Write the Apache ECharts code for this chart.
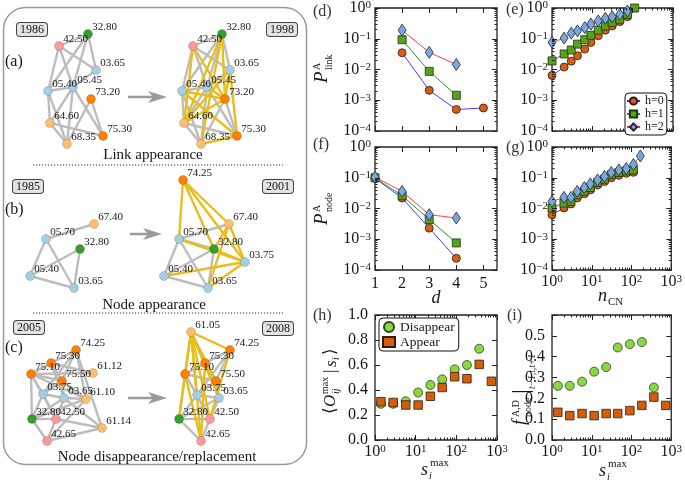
<!DOCTYPE html>
<html><head><meta charset="utf-8">
<script src="https://cdn.jsdelivr.net/npm/echarts@6/dist/echarts.min.js"></script>
<style>html,body{margin:0;padding:0;background:#fff}#c{width:685px;height:481px}</style>
</head><body><div id="c"></div>
<script>
// ================= DATA =================
// (d),(f): graph distance d
const dValues = [1, 2, 3, 4, 5];
const linkD_h0 = [null, 0.035, 0.0021, 0.00050, 0.00056];
const linkD_h1 = [null, 0.093, 0.0087, 0.00145, null];
const linkD_h2 = [null, 0.19, 0.036, 0.0145, null];
const nodeD_h0 = [0.095, 0.022, 0.0023, 0.00024, null];
const nodeD_h1 = [0.100, 0.026, 0.0044, 0.00076, null];
const nodeD_h2 = [0.105, 0.036, 0.0063, 0.0049, null];
// (e),(g): number of common neighbours
const nCN = [1, 2, 3, 4.3, 6.5, 9.2, 14, 21, 31, 48, 74, 112, 167];
const linkCN_h0 = [0.0064, 0.012, 0.0186, 0.028, 0.046, 0.076, 0.125, 0.19, 0.26, 0.36, 0.52];
const linkCN_h1 = [0.019, 0.032, 0.043, 0.067, 0.093, 0.13, 0.19, 0.26, 0.34, 0.43, 0.62, 1.0];
const linkCN_h2 = [0.076, 0.105, 0.152, 0.18, 0.23, 0.30, 0.38, 0.46, 0.52, 0.62, 0.80];
const nodeCN_h0 = [0.0063, 0.0104, 0.014, 0.022, 0.030, 0.040, 0.058, 0.075, 0.10, 0.12, 0.14, 0.15];
const nodeCN_h1 = [0.0104, 0.015, 0.017, 0.028, 0.036, 0.048, 0.070, 0.090, 0.125, 0.148, 0.167, 0.18];
const nodeCN_h2 = [0.017, 0.023, 0.023, 0.036, 0.048, 0.063, 0.085, 0.11, 0.148, 0.18, 0.20, 0.27, 0.51];
// (h),(i): s_i^max
const sMax = [1.4, 2.8, 5.7, 11.5, 23, 45, 91, 182, 365, 730];
const overlapDisappear = [0.29, 0.29, 0.31, 0.38, 0.44, 0.485, 0.565, 0.60, 0.73, null];
const overlapAppear = [0.306, 0.30, 0.28, 0.28, 0.35, 0.42, 0.506, 0.49, 0.605, 0.47];
const fracDisappear = [0.26, 0.26, 0.28, 0.328, 0.35, 0.444, 0.46, 0.47, 0.252, null];
const fracAppear = [0.133, 0.117, 0.127, 0.117, 0.127, 0.127, 0.141, 0.166, 0.206, 0.166];
// tick labels
const logTicksY = [1e-4, 1e-3, 1e-2, 1e-1, 1];
const logTicksX = [1, 10, 100, 1000];
const dTicks = [1, 2, 3, 4, 5];
const overlapTicks = [0, 0.2, 0.4, 0.6, 0.8, 1.0];
const fracTicks = [0, 0.1, 0.2, 0.3, 0.4, 0.5, 0.6];
const fracLabels = [0, 0.1, 0.2, 0.3, 0.4, 0.5];
const seriesNamesH = ['h=0', 'h=1', 'h=2'];
const seriesNamesAD = ['Disappear', 'Appear'];

// networks: [label, x, y, category]
const nodes1986 = [['42.50',19,21,'pink'],['32.80',48,9,'green'],['03.65',56,45,'blue'],['05.40',8,66,'blue'],['05.45',33,62,'blue'],['73.20',51,74,'orange'],['64.60',10,98,'lorange'],['68.35',27,119,'lorange'],['75.30',63,111,'orange']];
const edges1986 = [['42.50','32.80'],['42.50','05.40'],['42.50','05.45'],['42.50','03.65'],['32.80','05.40'],['32.80','05.45'],['32.80','03.65'],['05.40','05.45'],['05.45','03.65'],['05.40','64.60'],['05.40','68.35'],['05.45','64.60'],['05.45','68.35'],['05.45','75.30'],['64.60','68.35'],['64.60','75.30'],['73.20','68.35'],['73.20','75.30']];
const nodes1998 = nodes1986;
const newEdges1998 = [['42.50','73.20'],['32.80','73.20'],['32.80','64.60'],['05.40','73.20'],['05.45','73.20'],['03.65','64.60'],['03.65','73.20'],['03.65','75.30'],['64.60','73.20'],['42.50','64.60'],['05.40','75.30'],['68.35','75.30'],['32.80','68.35']];
const nodes1985 = [['05.70',26,69,'blue'],['67.40',74,54,'lorange'],['32.80',60,79,'green'],['05.40',10,106,'blue'],['03.65',54,118,'blue']];
const edges1985 = [['05.70','67.40'],['05.70','05.40'],['05.70','03.65'],['05.40','32.80'],['05.40','03.65'],['32.80','03.65']];
const nodes2001 = [['74.25',29,10,'orange'],['05.70',25,69,'blue'],['67.40',75,54,'lorange'],['32.80',60,79,'green'],['05.40',10,106,'blue'],['03.65',54,118,'blue'],['03.75',91,92,'blue']];
const edges2001 = [['05.70','67.40'],['05.70','05.40'],['05.70','03.65'],['05.40','32.80'],['05.40','03.65'],['32.80','03.65'],['05.70','32.80']];
const newEdges2001 = [['74.25','05.70'],['74.25','32.80'],['74.25','67.40'],['74.25','03.75'],['67.40','03.75'],['67.40','03.65'],['32.80','03.75'],['05.40','03.75'],['03.65','03.75'],['05.70','03.75'],['67.40','32.80']];
const nodes2005 = [['74.25',61,25,'orange'],['75.30',36,38,'orange'],['75.10',16,49,'orange'],['75.50',47,56,'orange'],['61.12',78,48,'lorange'],['03.75',28,69,'blue'],['03.65',49,73,'blue'],['61.10',71,74,'lorange'],['32.80',17,94,'green'],['42.50',41,94,'pink'],['61.14',87,103,'lorange'],['42.65',32,116,'pink']];
const edges2005 = [['74.25','75.10'],['74.25','75.30'],['74.25','75.50'],['74.25','03.75'],['74.25','61.14'],['74.25','61.10'],['75.30','75.10'],['75.30','75.50'],['75.30','61.12'],['75.30','03.65'],['75.10','61.12'],['75.10','75.50'],['75.10','03.75'],['75.10','32.80'],['75.10','61.10'],['75.50','03.75'],['75.50','03.65'],['75.50','61.10'],['03.75','03.65'],['03.75','32.80'],['03.75','42.50'],['03.65','61.10'],['03.65','42.50'],['03.65','61.14'],['32.80','42.50'],['32.80','42.65'],['42.50','42.65'],['42.65','61.14'],['42.50','61.14'],['32.80','61.10'],['75.10','42.50'],['03.65','32.80'],['61.10','42.65']];
const nodes2008 = [['61.05',26,7,'lorange'],['74.25',65,25,'orange'],['75.30',40,38,'orange'],['75.10',20,49,'orange'],['75.50',51,56,'orange'],['03.75',32,70,'blue'],['03.65',54,73,'blue'],['32.80',14,94,'green'],['42.50',45,94,'pink'],['42.65',36,116,'pink']];
const edges2008 = [['74.25','75.10'],['74.25','75.30'],['74.25','75.50'],['74.25','03.75'],['75.30','75.10'],['75.30','75.50'],['75.30','03.65'],['75.10','75.50'],['75.10','03.75'],['75.10','32.80'],['75.50','03.75'],['75.50','03.65'],['03.75','03.65'],['03.75','32.80'],['03.75','42.50'],['03.65','42.50'],['32.80','42.50'],['32.80','42.65'],['42.50','42.65'],['75.10','42.50'],['03.65','32.80']];
const newEdges2008 = [['61.05','75.10'],['61.05','32.80'],['61.05','74.25'],['61.05','75.30'],['61.05','75.50'],['61.05','03.75'],['61.05','42.65'],['61.05','42.50'],['61.05','03.65'],['74.25','42.50'],['75.10','42.65'],['75.30','42.65']];

// ================= STYLE / HELPERS =================
const SERIF = '"Liberation Serif", "DejaVu Serif", serif';
const INK = '#161616';
const NODE_COLORS = {pink:'#fb9a99', green:'#33a02c', blue:'#a6cee3', orange:'#ff7f00', lorange:'#fdbf6f'};
const GREY_EDGE = '#bdbdbd', YELLOW_EDGE = '#e8bd1e';
const STY = {
  'h=0': {symbol:'circle', size:8, fill:'#d2601a', edge:'#3a1800', line:'#2a2aff'},
  'h=1': {symbol:'rect', size:8, fill:'#5a9f1e', edge:'#1b3606', line:'#138a13'},
  'h=2': {symbol:'diamond', size:[8,12], fill:'#7ea6d8', edge:'#1d2a40', line:'#ff2a2a'},
  'Disappear': {symbol:'circle', size:9, fill:'#8cd548', edge:'#2a4a0e'},
  'Appear': {symbol:'rect', size:8.5, fill:'#d0600f', edge:'#3a1800'}
};
const pts = (xs, ys) => ys.map((y, i) => (y == null ? null : [xs[i], y])).filter(Boolean);
function logMinor(lo, hi) { const out = []; for (let e = Math.round(Math.log10(lo)); e < Math.round(Math.log10(hi)); e++) for (let k = 2; k <= 9; k++) out.push(k * Math.pow(10, e)); return out; }
function logFmt(v) { const e = Math.round(Math.log10(v)); return '{b|10}{s|' + (e < 0 ? '\u2212' + (-e) : String(e)) + '}'; }
const RICH = { b: {fontFamily: SERIF, fontSize: 16, color: INK}, s: {fontFamily: SERIF, fontSize: 11, color: INK, verticalAlign: 'top'} };

const AX_LOGY = {type:'log', min:1e-4, max:1, ticks:logTicksY, minor:logMinor(1e-4, 1), fmt:logFmt, margin:4};
const AX_LOGX = {type:'log', min:1, max:1000, ticks:logTicksX, minor:logMinor(1, 1000), fmt:logFmt, margin:4};
const AX_D = {type:'value', min:1, max:5.5, ticks:dTicks, fmt:v => String(v), margin:6};
const AX_OVL = {type:'value', min:0, max:1, ticks:overlapTicks, fmt:v => v.toFixed(1), margin:7};
const AX_FRAC = {type:'value', min:0, max:0.6, ticks:fracTicks, labels:fracLabels, fmt:v => v.toFixed(1), margin:7};

const grids = [], xAxes = [], yAxes = [], series = [], graphic = [];

function mkAxis(gi, pos, spec, labels, minor) {
  const a = {
    type: spec.type, gridIndex: gi, position: pos, min: spec.min, max: spec.max,
    axisLine: {show: false, onZero: false},
    splitLine: {show: false},
    axisTick: {show: true, inside: true, length: minor ? 2.5 : 5, lineStyle: {color: '#222', width: 1}, customValues: minor ? spec.minor : spec.ticks},
    axisLabel: labels ? {show: true, customValues: spec.labels || spec.ticks, formatter: spec.fmt, margin: spec.margin, color: INK, fontFamily: SERIF, fontSize: 16, rich: RICH} : {show: false},
    silent: true, z: 10
  };
  if (spec.type === 'log') a.logBase = 10;
  return a;
}
function addPlot(box, xs, ys, xLabels, yLabels) {
  const gi = grids.length;
  grids.push(Object.assign({show: true, borderColor: '#222', borderWidth: 1.3, backgroundColor: 'rgba(0,0,0,0)'}, box));
  const xi = xAxes.length;
  xAxes.push(mkAxis(gi, 'bottom', xs, xLabels, false));
  xAxes.push(mkAxis(gi, 'top', xs, false, false));
  if (xs.minor) { xAxes.push(mkAxis(gi, 'bottom', xs, false, true)); xAxes.push(mkAxis(gi, 'top', xs, false, true)); }
  const yi = yAxes.length;
  yAxes.push(mkAxis(gi, 'left', ys, yLabels, false));
  yAxes.push(mkAxis(gi, 'right', ys, false, false));
  if (ys.minor) { yAxes.push(mkAxis(gi, 'left', ys, false, true)); yAxes.push(mkAxis(gi, 'right', ys, false, true)); }
  return {xi, yi};
}
function lineS(name, ax, data) {
  const s = STY[name];
  return {type: 'line', name, xAxisIndex: ax.xi, yAxisIndex: ax.yi, data, symbol: s.symbol, symbolSize: s.size, showSymbol: true,
    itemStyle: {color: s.fill, borderColor: s.edge, borderWidth: 0.8}, lineStyle: {color: s.line, width: 0.9},
    emphasis: {disabled: true}, animation: false, z: 3};
}
function scatS(name, ax, data) {
  const s = STY[name];
  return {type: 'scatter', name, xAxisIndex: ax.xi, yAxisIndex: ax.yi, data, symbol: s.symbol, symbolSize: s.size,
    itemStyle: {color: s.fill, borderColor: s.edge, borderWidth: 0.8, opacity: 1}, emphasis: {disabled: true}, animation: false, z: 3};
}

// ================= RIGHT PLOTS =================
const axD = addPlot({left:375, top:7, width:122, height:124}, AX_D, AX_LOGY, false, true);
const axE = addPlot({left:552, top:7, width:121, height:124}, AX_LOGX, AX_LOGY, false, true);
const axF = addPlot({left:375, top:147, width:122, height:123}, AX_D, AX_LOGY, true, true);
const axG = addPlot({left:552, top:147, width:121, height:123}, AX_LOGX, AX_LOGY, true, true);
const axH = addPlot({left:375, top:315, width:122, height:125}, AX_LOGX, AX_OVL, true, true);
const axI = addPlot({left:552, top:315, width:121, height:125}, AX_LOGX, AX_FRAC, true, true);

series.push(lineS('h=0', axD, pts(dValues, linkD_h0)), lineS('h=1', axD, pts(dValues, linkD_h1)), lineS('h=2', axD, pts(dValues, linkD_h2)));
series.push(lineS('h=0', axE, pts(nCN, linkCN_h0)), lineS('h=1', axE, pts(nCN, linkCN_h1)), lineS('h=2', axE, pts(nCN, linkCN_h2)));
series.push(lineS('h=0', axF, pts(dValues, nodeD_h0)), lineS('h=1', axF, pts(dValues, nodeD_h1)), lineS('h=2', axF, pts(dValues, nodeD_h2)));
series.push(lineS('h=0', axG, pts(nCN, nodeCN_h0)), lineS('h=1', axG, pts(nCN, nodeCN_h1)), lineS('h=2', axG, pts(nCN, nodeCN_h2)));
series.push(scatS('Disappear', axH, pts(sMax, overlapDisappear)), scatS('Appear', axH, pts(sMax, overlapAppear)));
series.push(scatS('Disappear', axI, pts(sMax, fracDisappear)), scatS('Appear', axI, pts(sMax, fracAppear)));

// ================= NETWORKS =================
function addNet(left, top, nodes, greyEdges, yellowEdges) {
  const gi = grids.length;
  grids.push({left, top, width: 130, height: 130, show: false});
  const xi = xAxes.length, yi = yAxes.length;
  xAxes.push({type: 'value', gridIndex: gi, min: 0, max: 130, show: false});
  yAxes.push({type: 'value', gridIndex: gi, min: 0, max: 130, inverse: true, show: false});
  const links = greyEdges.map(e => ({source: e[0], target: e[1], lineStyle: {color: GREY_EDGE, width: 2.4}}))
    .concat((yellowEdges || []).map(e => ({source: e[0], target: e[1], lineStyle: {color: YELLOW_EDGE, width: 2.4}})));
  series.push({
    type: 'graph', layout: 'none', coordinateSystem: 'cartesian2d', xAxisIndex: xi, yAxisIndex: yi,
    symbol: 'circle', symbolSize: 9, silent: true, animation: false, roam: false, z: 2,
    data: nodes.map(n => ({name: n[0], value: [n[1], n[2]], itemStyle: {color: NODE_COLORS[n[3]], borderColor: 'rgba(0,0,0,0.3)', borderWidth: 0.5}})),
    links,
    lineStyle: {opacity: 1, curveness: 0},
    label: {show: true, position: [9, -8], color: INK, fontFamily: SERIF, fontSize: 11},
    emphasis: {disabled: true}
  });
}
addNet(40, 25, nodes1986, edges1986, []);
addNet(174, 25, nodes1998, edges1986, newEdges1998);
addNet(20, 170, nodes1985, edges1985, []);
addNet(154, 170, nodes2001, edges2001, newEdges2001);
addNet(15, 325, nodes2005, edges2005, []);
addNet(165, 325, nodes2008, edges2008, newEdges2008);

// ================= DECORATION =================
function txt(x, y, text, font, extra) { return Object.assign({type: 'text', x, y, silent: true, style: Object.assign({text, font, fill: INK, align: 'left', verticalAlign: 'middle', textAlign: 'left', textVerticalAlign: 'middle'}, extra || {})}); }
function ctxt(x, y, text, font) { return txt(x, y, text, font, {align: 'center', textAlign: 'center'}); }
function yearBox(x, y, t) { return {type: 'text', x, y, silent: true, style: {text: t, font: '12px ' + SERIF, fill: INK, backgroundColor: '#e4e4e4', borderColor: '#444', borderWidth: 1, borderRadius: 3, padding: [1, 3, 0, 3], verticalAlign: 'top', textVerticalAlign: 'top'}}; }
function arrow(x1, x2, y) {
  return {type: 'group', silent: true, children: [
    {type: 'line', shape: {x1: x1, y1: y, x2: x2 - 14, y2: y}, style: {stroke: '#9b9b9b', lineWidth: 2.5}},
    {type: 'polygon', shape: {points: [[x2, y], [x2 - 19, y - 6], [x2 - 14, y], [x2 - 19, y + 6]]}, style: {fill: '#9b9b9b'}}
  ]};
}
function rot(cx, cy, parts) {
  return {type: 'group', x: cx, y: cy, rotation: Math.PI / 2, silent: true,
    children: parts.map(p => ({type: 'text', x: p[1], y: p[2], style: {text: p[0], font: p[3], fill: INK, align: 'left', verticalAlign: 'middle', textAlign: 'left', textVerticalAlign: 'middle'}}))};
}
graphic.push({type: 'rect', silent: true, shape: {x: 3.5, y: 7.5, width: 303, height: 457, r: 22}, style: {fill: 'none', stroke: '#9a9a9a', lineWidth: 1.5}});
graphic.push({type: 'line', silent: true, shape: {x1: 33, y1: 165, x2: 283, y2: 165}, style: {stroke: '#333', lineWidth: 1, lineDash: [1.2, 1.8]}});
graphic.push({type: 'line', silent: true, shape: {x1: 33, y1: 313, x2: 283, y2: 313}, style: {stroke: '#333', lineWidth: 1, lineDash: [1.2, 1.8]}});
graphic.push(yearBox(17, 23, '1986'), yearBox(267, 23, '1998'), yearBox(13, 180, '1985'), yearBox(263, 180, '2001'), yearBox(14, 321, '2005'), yearBox(263, 322, '2008'));
graphic.push(arrow(128, 167, 97), arrow(130, 162, 234), arrow(128, 167, 398));
graphic.push(txt(5, 62, '(a)', '16px ' + SERIF), txt(5, 210, '(b)', '16px ' + SERIF), txt(5, 348, '(c)', '16px ' + SERIF));
graphic.push(ctxt(153, 155, 'Link appearance', '15px ' + SERIF), ctxt(154, 305, 'Node appearance', '15px ' + SERIF), ctxt(157, 457, 'Node disappearance/replacement', '15px ' + SERIF));
// panel letters
const PL = '16px ' + SERIF;
graphic.push(txt(313, 12, '(d)', PL, {fill: '#333'}), txt(506, 10, '(e)', PL, {fill: '#333'}), txt(313, 145, '(f)', PL, {fill: '#333'}), txt(506, 148, '(g)', PL, {fill: '#333'}), txt(313, 316, '(h)', PL, {fill: '#333'}), txt(507, 316, '(i)', PL, {fill: '#333'}));
// axis names
const IT = s => 'italic ' + s + 'px ' + SERIF, RM = s => s + 'px ' + SERIF;
graphic.push(rot(324, 68, [['P', -15, -2, IT(19)], ['A', -2, -7, RM(10)], ['link', -2, 5, RM(10)]]));
graphic.push(rot(324, 208, [['P', -17, -2, IT(19)], ['A', -4, -7, RM(10)], ['node', -4, 5, RM(10)]]));
graphic.push(rot(331, 378, [['\u27E8', -36, 0, RM(17)], ['O', -29, 0, IT(17)], ['max', -16, -6, RM(10)], ['ij', -16, 5, IT(10)], ['|', 5, 0, RM(17)], ['s', 11, 1, IT(17)], ['i', 18, 5, IT(10)], ['\u27E9', 23, 0, RM(17)]]));
graphic.push(rot(520, 384, [['f', -41, 0, IT(18)], ['A,D', -33, -4, RM(10)], ['node', -33, 8, RM(10)], ['|', -10, 2, RM(24)], ['t\u22121,t,t+1', -5, 12, IT(9.5)]]));
graphic.push(ctxt(436, 298, 'd', IT(18)));
graphic.push(txt(598, 296, 'n', IT(18)), txt(608, 302, 'CN', RM(11)));
graphic.push(txt(421, 470, 's', IT(18)), txt(430, 463, 'max', RM(11)), txt(429, 476, 'i', IT(10)));
graphic.push(txt(599, 471, 's', IT(18)), txt(608, 464, 'max', RM(11)), txt(607, 477, 'i', IT(10)));

// ================= CHART =================
const chart = echarts.init(document.getElementById('c'), null, {renderer: 'canvas', width: 685, height: 481});
chart.setOption({
  animation: false,
  backgroundColor: '#fff',
  grid: grids, xAxis: xAxes, yAxis: yAxes, series, graphic,
  legend: [
    {data: seriesNamesH, orient: 'vertical', left: 625, top: 93, itemWidth: 13, itemHeight: 9, itemGap: 1, padding: [2, 3, 2, 1],
     borderColor: '#111', borderWidth: 1, borderRadius: 4, backgroundColor: '#fff', selectedMode: false, z: 20,
     textStyle: {fontFamily: SERIF, fontSize: 12, color: INK, lineHeight: 10}},
    {data: seriesNamesAD, orient: 'vertical', left: 379, top: 318, itemWidth: 12, itemHeight: 10, itemGap: 1, padding: [2, 4, 2, 3],
     borderColor: '#111', borderWidth: 1, borderRadius: 4, backgroundColor: '#fff', selectedMode: false, z: 20,
     textStyle: {fontFamily: SERIF, fontSize: 13.5, color: INK, lineHeight: 12}}
  ]
});
</script></body></html>
